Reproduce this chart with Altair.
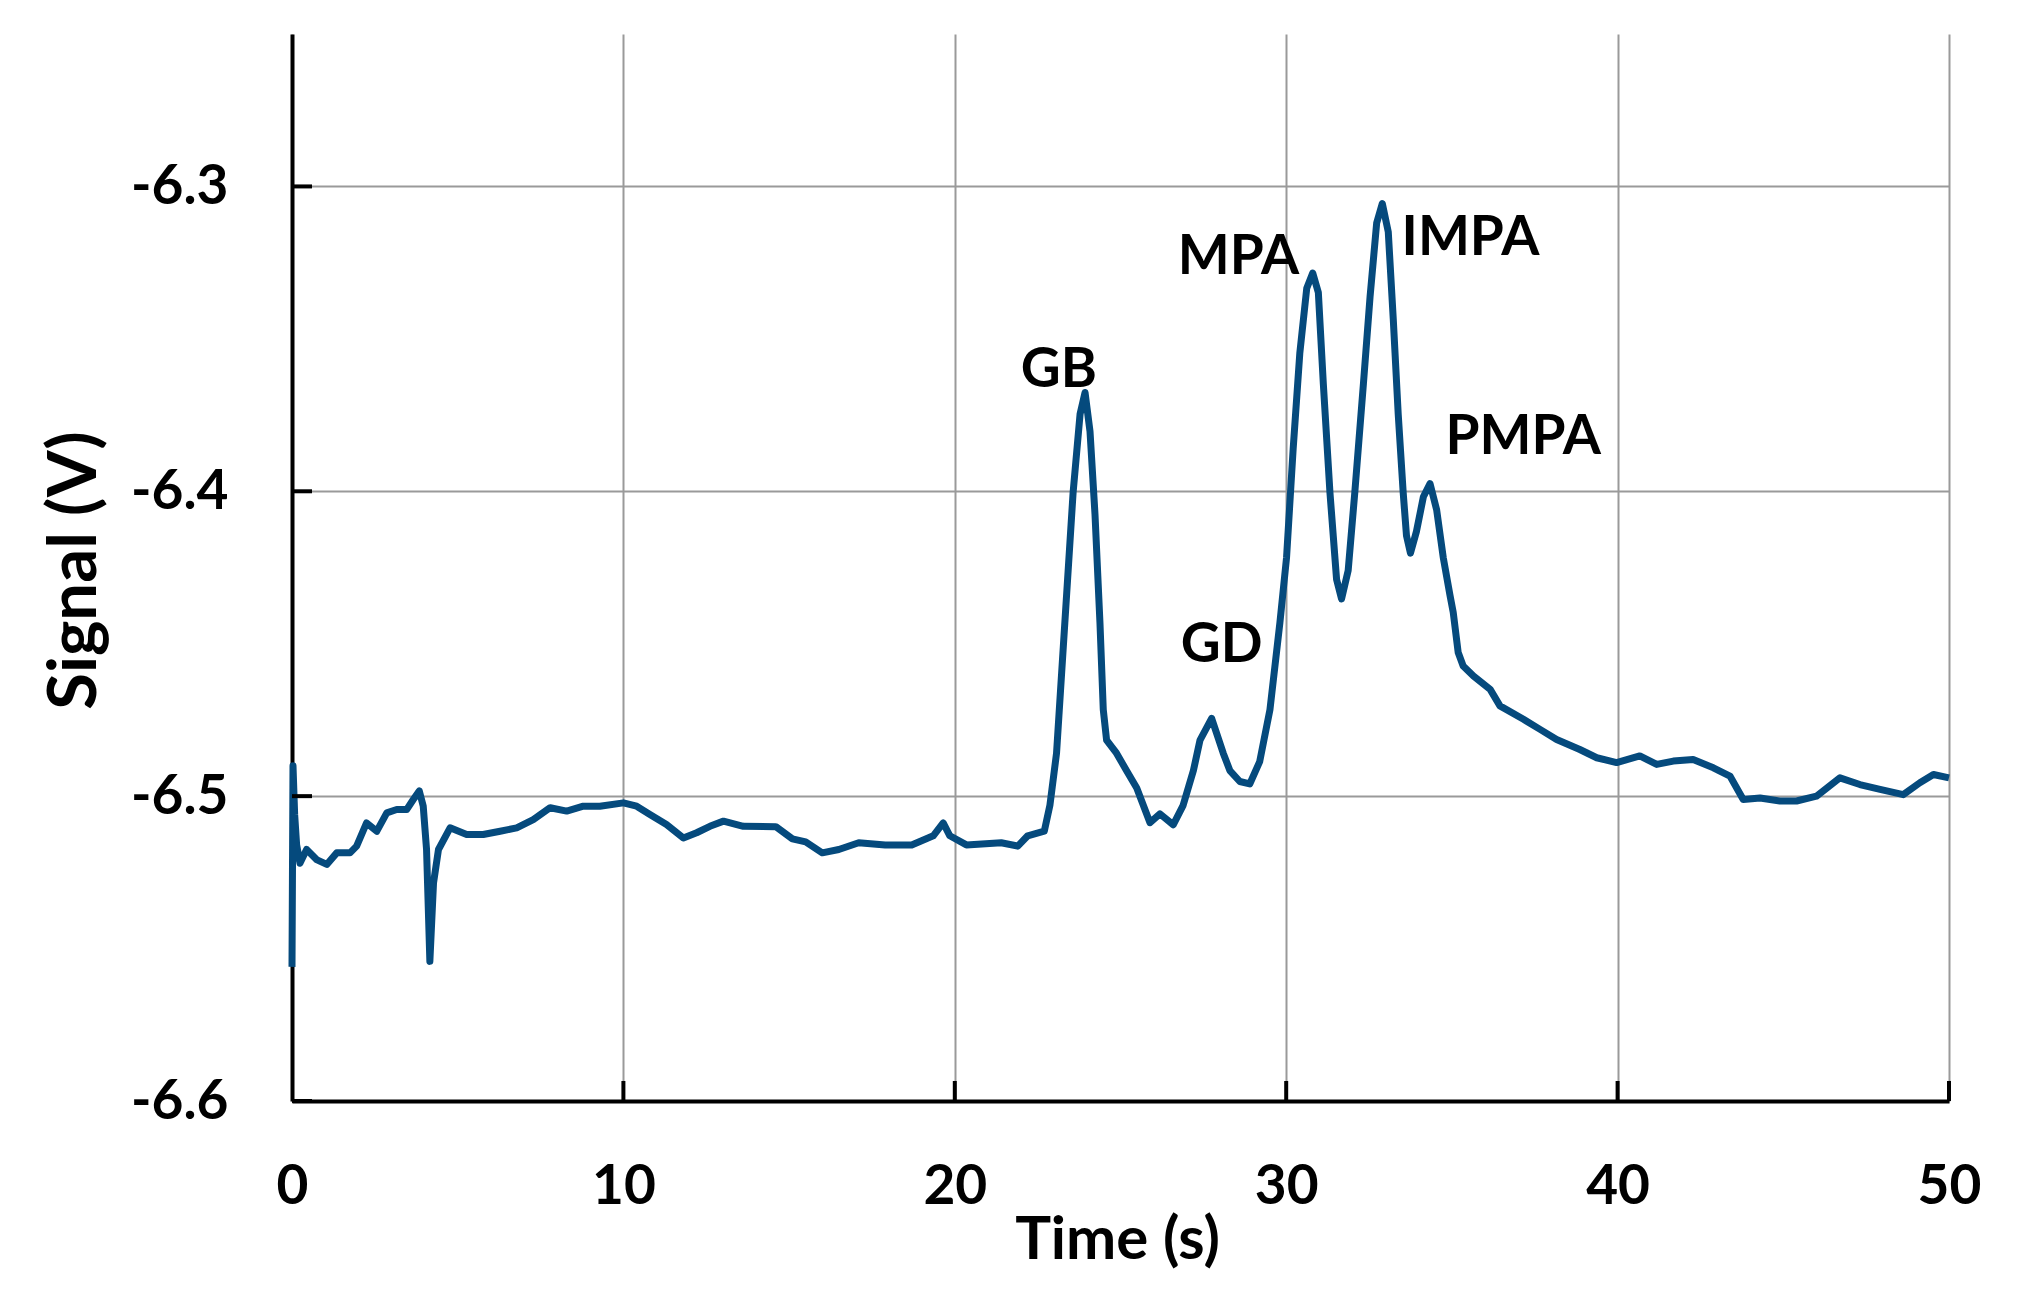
import altair as alt
import pandas as pd

# ---- data ----
time_s = [0.00, 0.03, 0.08, 0.14, 0.24, 0.44, 0.74, 1.05, 1.35, 1.75, 1.95, 2.25, 2.56, 2.86,
          3.16, 3.46, 3.66, 3.84, 3.96, 4.06, 4.16, 4.27, 4.42, 4.77, 5.27, 5.77, 6.28, 6.78,
          7.28, 7.79, 8.29, 8.79, 9.29, 10.0, 10.4, 10.8, 11.3, 11.81, 12.21, 12.61, 13.02,
          13.62, 14.6, 15.1, 15.5, 16.0, 16.5, 17.1, 17.9, 18.7, 19.35, 19.65, 19.85, 20.35,
          21.4, 21.9, 22.2, 22.7, 22.87, 23.07, 23.32, 23.57, 23.78, 23.93, 24.08, 24.23,
          24.38, 24.48, 24.58, 24.88, 25.18, 25.49, 25.89, 26.19, 26.59, 26.89, 27.2, 27.4,
          27.75, 28.1, 28.3, 28.6, 28.9, 29.2, 29.51, 29.81, 30.01, 30.21, 30.41, 30.62, 30.8,
          30.97, 31.12, 31.32, 31.52, 31.67, 31.87, 32.07, 32.33, 32.53, 32.73, 32.9, 33.08,
          33.23, 33.38, 33.53, 33.63, 33.75, 33.93, 34.14, 34.34, 34.54, 34.74, 34.94, 35.04,
          35.19, 35.34, 35.65, 36.15, 36.45, 37.16, 37.66, 38.16, 38.86, 39.37, 39.97, 40.67,
          41.18, 41.68, 42.28, 42.89, 43.39, 43.79, 44.30, 44.9, 45.4, 46.0, 46.71, 47.31,
          47.92, 48.62, 49.12, 49.53, 50.0]
signal_v = [-6.556, -6.490, -6.506, -6.516, -6.522, -6.5175, -6.5208, -6.5224, -6.5186, -6.5186,
            -6.5164, -6.5088, -6.5115, -6.5055, -6.5044, -6.5044, -6.5011, -6.4983, -6.5033,
            -6.5175, -6.5542, -6.5285, -6.5175, -6.5104, -6.5126, -6.5126, -6.5115, -6.5104,
            -6.5077, -6.5038, -6.5049, -6.5033, -6.5033, -6.5022, -6.5033, -6.5060, -6.5093,
            -6.5137, -6.5120, -6.5099, -6.5082, -6.5099, -6.5100, -6.5140, -6.5150, -6.5186,
            -6.5175, -6.5153, -6.5160, -6.5160, -6.5130, -6.5088, -6.5130, -6.5160, -6.5153,
            -6.5164, -6.5130, -6.5115, -6.5030, -6.4859, -6.4431, -6.4004, -6.3747, -6.3676,
            -6.3804, -6.4075, -6.4431, -6.4716, -6.4816, -6.4859, -6.4916, -6.4973, -6.5087,
            -6.5058, -6.5094, -6.5030, -6.4916, -6.4816, -6.4745, -6.4859, -6.4916, -6.4952,
            -6.4960, -6.4887, -6.4716, -6.4431, -6.4218, -6.3861, -6.3548, -6.3334, -6.3284,
            -6.3348, -6.3647, -6.4004, -6.4289, -6.4353, -6.4260, -6.4004, -6.3647, -6.3363,
            -6.3120, -6.3056, -6.3149, -6.3434, -6.3747, -6.4004, -6.4146, -6.4203, -6.4132,
            -6.4018, -6.3975, -6.4061, -6.4218, -6.4340, -6.4397, -6.4529, -6.4573, -6.4606,
            -6.4649, -6.4704, -6.4748, -6.4781, -6.4814, -6.4847, -6.4874, -6.4890, -6.4868,
            -6.4896, -6.4885, -6.4880, -6.4907, -6.4934, -6.5011, -6.5006, -6.5016, -6.5016,
            -6.5000, -6.4940, -6.4962, -6.4978, -6.4995, -6.4956, -6.4929, -6.4940]

peak_labels = ["GB", "GD", "MPA", "IMPA", "PMPA"]
label_time = [23.14, 28.05, 28.56, 35.56, 37.15]
label_signal = [-6.3657, -6.4561, -6.3286, -6.3226, -6.3877]

x_ticks = [0, 10, 20, 30, 40, 50]
y_ticks = [-6.6, -6.5, -6.4, -6.3]

# ---- chart ----
W, H = 1657, 1067
LINE = "#054a7d"
FONT = "Lato"

df = pd.DataFrame({"t": time_s, "v": signal_v})
lab = pd.DataFrame({"label": peak_labels, "t": label_time, "v": label_signal})
xt = pd.DataFrame({"t": x_ticks[1:]})
yt = pd.DataFrame({"v": y_ticks})

xscale = alt.Scale(domain=[0, 50], nice=False, zero=False)
yscale = alt.Scale(domain=[-6.6, -6.25], nice=False, zero=False)

x_axis = alt.Axis(
    values=x_ticks, grid=True, gridColor="#9a9a9a", gridWidth=2,
    domainColor="black", domainWidth=4, ticks=False, tickSize=0,
    labelFont=FONT, labelFontSize=55, labelFontWeight="bold", labelColor="black",
    labelBaseline="alphabetic", labelPadding=102, labelFlush=False,
    title="Time (s)", titleFont=FONT, titleFontSize=60, titleFontWeight="bold",
    titleColor="black", titleX=825, titleY=157, titleAlign="center",
    titleBaseline="alphabetic",
)
y_axis = alt.Axis(
    values=y_ticks, grid=True, gridColor="#9a9a9a", gridWidth=2,
    domainColor="black", domainWidth=4, ticks=False, tickSize=0,
    labelFont=FONT, labelFontSize=55, labelFontWeight="bold", labelColor="black",
    labelBaseline="middle", labelPadding=64, labelFlush=False,
    labelExpr="datum.value < 0 ? '-' + format(-datum.value, '.1f') : format(datum.value, '.1f')",
    title="Signal (V)", titleFont=FONT, titleFontSize=67, titleFontWeight="bold",
    titleColor="black", titleAngle=270, titleX=-197, titleY=536, titleAlign="center",
    titleBaseline="alphabetic",
)

line = alt.Chart(df).mark_line(color=LINE, strokeWidth=7, strokeJoin="round").encode(
    x=alt.X("t:Q", scale=xscale, axis=x_axis),
    y=alt.Y("v:Q", scale=yscale, axis=y_axis),
)

xtick_marks = alt.Chart(xt).mark_rule(color="black", strokeWidth=4).encode(
    x=alt.X("t:Q", scale=xscale),
    y=alt.value(H),
    y2=alt.value(H - 20),
)
ytick_marks = alt.Chart(yt).mark_rule(color="black", strokeWidth=4).encode(
    y=alt.Y("v:Q", scale=yscale),
    x=alt.value(0),
    x2=alt.value(20),
)

labels = alt.Chart(lab).mark_text(
    font=FONT, fontSize=55, fontWeight="bold", color="black",
    align="center", baseline="alphabetic",
).encode(
    x=alt.X("t:Q", scale=xscale),
    y=alt.Y("v:Q", scale=yscale),
    text="label:N",
)

chart = alt.layer(line, xtick_marks, ytick_marks, labels).properties(
    width=W, height=H,
    padding={"left": 284, "top": 26, "right": 66, "bottom": 195},
    autosize=alt.AutoSizeParams(type="none"),
    background="white",
).configure_view(stroke=None)

chart.save("out.html", embed_options={"renderer": "svg", "actions": False})
